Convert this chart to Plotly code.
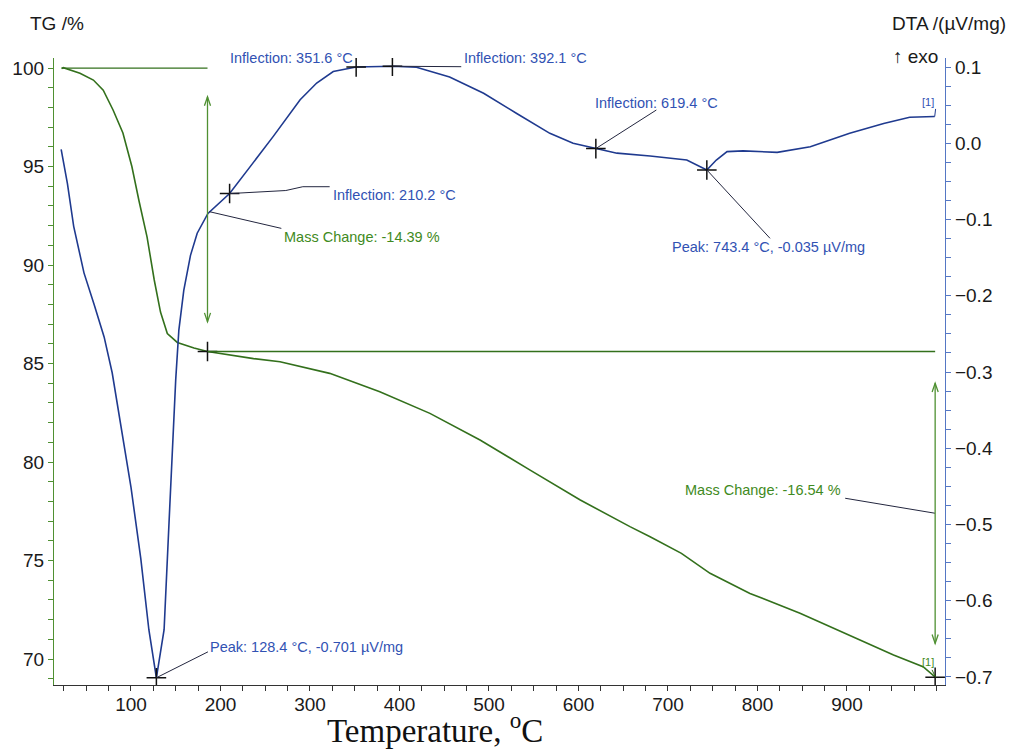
import plotly.graph_objects as go

# ---------------- data ----------------
temp_tg = [22.5, 24.4, 43, 58, 69, 80, 91, 101, 109, 118, 126, 133, 140.6, 151.8,
           170.4, 185.5, 237, 266.5, 322, 378, 434, 490, 546, 602, 657.5, 680, 715,
           747, 791.6, 847.5, 914.5, 952, 985, 999]
tg = [99.98, 100.02, 99.73, 99.39, 98.88, 97.87, 96.70, 95.00, 93.25, 91.42, 89.24,
      87.61, 86.52, 86.07, 85.79, 85.61, 85.25, 85.09, 84.50, 83.57, 82.47, 81.12,
      79.59, 78.07, 76.72, 76.21, 75.36, 74.35, 73.33, 72.32, 70.96, 70.20, 69.61, 69.07]

temp_dta = [22, 29, 36, 47.5, 59, 70, 79, 88.5, 100, 111, 120, 128.4, 137, 142.5, 146,
            150, 153.5, 159, 166.5, 174, 186, 210.2, 233, 259, 289, 307.5, 326, 351.6,
            392.1, 419, 456, 494, 531, 568, 594, 619.4, 643, 680, 721, 743.4, 754, 766,
            784, 822, 859, 903, 941, 970, 998]
dta = [-0.008, -0.053, -0.109, -0.170, -0.212, -0.254, -0.301, -0.367, -0.451, -0.545,
       -0.638, -0.701, -0.638, -0.498, -0.404, -0.310, -0.245, -0.193, -0.147, -0.118,
       -0.092, -0.066, -0.031, 0.009, 0.057, 0.079, 0.094, 0.100, 0.101, 0.0996, 0.087,
       0.0655, 0.039, 0.013, 0.000, -0.007, -0.013, -0.0167, -0.022, -0.035, -0.022,
       -0.011, -0.010, -0.012, -0.0045, 0.013, 0.026, 0.034, 0.035]

x_tick_vals = [100, 200, 300, 400, 500, 600, 700, 800, 900]
tg_tick_vals = [70, 75, 80, 85, 90, 95, 100]
dta_tick_vals = [-0.7, -0.6, -0.5, -0.4, -0.3, -0.2, -0.1, 0.0, 0.1]

# characteristic DTA points
dta_event_t = [128.4, 210.2, 351.6, 392.1, 619.4, 743.4]
dta_event_v = [-0.701, -0.066, 0.100, 0.101, -0.007, -0.035]
dta_event_text = ["Peak: 128.4 °C, -0.701 µV/mg", "Inflection: 210.2 °C",
                  "Inflection: 351.6 °C", "Inflection: 392.1 °C",
                  "Inflection: 619.4 °C", "Peak: 743.4 °C, -0.035 µV/mg"]

# TG step evaluation
tg_step_t = [185.5, 998.5]
tg_step_v = [85.61, 69.07]
tg_start_t = 22.5
tg_start_v = 100.0
mass_change_text = ["Mass Change: -14.39 %", "Mass Change: -16.54 %"]
mass_arrow_top = [98.54, 84.0]
mass_arrow_bottom = [87.12, 70.79]

# ---------------- styles ----------------
BLUE_LINE = "#1f3a8f"
BLUE_TEXT = "#3152b3"
BLUE_AXIS = "#5577c4"
GREEN_LINE = "#33701c"
GREEN_TEXT = "#3f8a22"
GREEN_AXIS = "#4f9032"
LEADER = "#23263f"
FONT = "Liberation Sans, Arial, sans-serif"

fig = go.Figure()

fig.add_trace(go.Scatter(x=temp_dta, y=dta, yaxis="y2", mode="lines",
                         line=dict(color=BLUE_LINE, width=1.6), hoverinfo="skip"))
fig.add_trace(go.Scatter(x=temp_tg, y=tg, mode="lines",
                         line=dict(color=GREEN_LINE, width=1.6), hoverinfo="skip"))

# crosses
fig.add_trace(go.Scatter(x=dta_event_t, y=dta_event_v, yaxis="y2", mode="markers",
                         marker=dict(symbol="cross-thin", size=14,
                                     line=dict(color="#111111", width=1.5)),
                         hoverinfo="skip"))
fig.add_trace(go.Scatter(x=tg_step_t, y=tg_step_v, mode="markers",
                         marker=dict(symbol="cross-thin", size=14,
                                     line=dict(color="#111111", width=1.5)),
                         hoverinfo="skip"))

shapes = []
# TG reference lines
shapes.append(dict(type="line", xref="x", yref="y", x0=tg_start_t, x1=tg_step_t[0],
                   y0=tg_start_v, y1=tg_start_v, line=dict(color=GREEN_LINE, width=1.3)))
shapes.append(dict(type="line", xref="x", yref="y", x0=tg_step_t[0], x1=tg_step_t[1],
                   y0=tg_step_v[0], y1=tg_step_v[0], line=dict(color=GREEN_LINE, width=1.3)))


def path_shape(pts, yref, color, width=1.0):
    p = "M " + " L ".join(f"{a},{b}" for a, b in pts)
    return dict(type="path", xref="x", yref=yref, path=p,
                line=dict(color=color, width=width))


# DTA leader lines
shapes.append(path_shape([(dta_event_t[0], dta_event_v[0]), (186, -0.667)], "y2", LEADER))
shapes.append(path_shape([(dta_event_t[1], dta_event_v[1]), (273, -0.062),
                          (292, -0.057), (322, -0.057)], "y2", LEADER))
shapes.append(path_shape([(dta_event_t[3], dta_event_v[3]), (469, 0.1004)], "y2", LEADER))
shapes.append(path_shape([(dta_event_t[4], dta_event_v[4]), (687, 0.0436)], "y2", LEADER))
shapes.append(path_shape([(dta_event_t[5], dta_event_v[5]), (814, -0.1247)], "y2", LEADER))
shapes.append(path_shape([(temp_dta[-1], dta[-1]), (999, 0.045)], "y2", BLUE_LINE))
# TG leaders
shapes.append(path_shape([(187.5, 92.71), (268, 91.86)], "y", LEADER))
shapes.append(path_shape([(998.3, 77.40), (898, 78.16)], "y", LEADER))
shapes.append(path_shape([(995, 69.45), (999, 69.07)], "y", GREEN_LINE))

# mass change double arrows (line + open chevron heads)
hx, hy = 3.4, 0.45
for xa, ytop, ybot in zip(tg_step_t, mass_arrow_top, mass_arrow_bottom):
    shapes.append(path_shape([(xa, ytop), (xa, ybot)], "y", GREEN_AXIS, 1.3))
    shapes.append(path_shape([(xa - hx, ytop - hy), (xa, ytop), (xa + hx, ytop - hy)],
                             "y", GREEN_AXIS, 1.3))
    shapes.append(path_shape([(xa - hx, ybot + hy), (xa, ybot), (xa + hx, ybot + hy)],
                             "y", GREEN_AXIS, 1.3))

annotations = []


def label(text, x, y, xanchor, yref, color, size=14.5):
    annotations.append(dict(text=text, x=x, y=y, xref="x", yref=yref, xanchor=xanchor,
                            yanchor="middle", showarrow=False,
                            font=dict(family=FONT, size=size, color=color)))


label(dta_event_text[0], 186, -0.6603, "left", "y2", BLUE_TEXT)
label(dta_event_text[1], 323.4, -0.0679, "left", "y2", BLUE_TEXT)
label(dta_event_text[2], 350.5, 0.1114, "right", "y2", BLUE_TEXT)
label(dta_event_text[3], 469.8, 0.1114, "left", "y2", BLUE_TEXT)
label(dta_event_text[4], 616.2, 0.0532, "left", "y2", BLUE_TEXT)
label(dta_event_text[5], 702.2, -0.1357, "left", "y2", BLUE_TEXT)
label(mass_change_text[0], 268.4, 91.44, "left", "y", GREEN_TEXT)
label(mass_change_text[1], 895.5, 78.58, "right", "y", GREEN_TEXT)
label("[1]", 990.5, 0.0545, "center", "y2", BLUE_TEXT, 11)
label("[1]", 990.8, 69.86, "center", "y", GREEN_TEXT, 11)

# axis labels
annotations.append(dict(text="TG /%", x=-0.0292, y=1.0558, xref="paper", yref="paper",
                        xanchor="left", yanchor="middle", showarrow=False,
                        font=dict(family=FONT, size=19, color="#1a1a1a")))
annotations.append(dict(text="DTA /(µV/mg)", x=1.0707, y=1.0558, xref="paper",
                        yref="paper", xanchor="right", yanchor="middle", showarrow=False,
                        font=dict(family=FONT, size=19, color="#1a1a1a")))
annotations.append(dict(text="↑ exo", x=0.9944, y=1.0016, xref="paper", yref="paper",
                        xanchor="right", yanchor="middle", showarrow=False,
                        font=dict(family=FONT, size=19, color="#1a1a1a")))
annotations.append(dict(text="Temperature, <sup>o</sup>C", x=0.4276, y=-0.068,
                        xref="paper", yref="paper", xanchor="center", yanchor="middle",
                        showarrow=False,
                        font=dict(family="Liberation Serif, Times New Roman, serif",
                                  size=33, color="#111111")))

tick_font = dict(family=FONT, size=19, color="#1a1a1a")

fig.update_layout(
    width=1012, height=749, autosize=False,
    margin=dict(l=54, r=67, t=58, b=64, pad=0),
    paper_bgcolor="white", plot_bgcolor="white",
    showlegend=False,
    shapes=shapes, annotations=annotations,
    xaxis=dict(range=[14, 1009.5], tickmode="array", tickvals=x_tick_vals,
               showgrid=False, zeroline=False, showline=True, linecolor="#333333",
               linewidth=1.3, ticks="outside", ticklen=5, tickcolor="#333333",
               tickfont=tick_font, ticklabelstandoff=-3,
               minor=dict(tickmode="linear", tick0=0, dtick=25, ticks="outside",
                          ticklen=5, tickcolor="#333333")),
    yaxis=dict(range=[68.68, 100.51], tickmode="array", tickvals=tg_tick_vals,
               showgrid=False, zeroline=False, showline=True, linecolor=GREEN_AXIS,
               linewidth=1.3, ticks="outside", ticklen=5, tickcolor=GREEN_AXIS,
               tickfont=tick_font,
               minor=dict(tickmode="linear", tick0=0, dtick=1, ticks="outside",
                          ticklen=5, tickcolor=GREEN_AXIS)),
    yaxis2=dict(range=[-0.7105, 0.1118], overlaying="y", side="right", anchor="x",
                tickmode="array", tickvals=dta_tick_vals, tickformat=".1f",
                showgrid=False, zeroline=False, showline=True, linecolor=BLUE_AXIS,
                linewidth=1.3, ticks="outside", ticklen=5, tickcolor=BLUE_AXIS,
                tickfont=tick_font,
                minor=dict(tickmode="linear", tick0=0, dtick=0.025, ticks="outside",
                           ticklen=5, tickcolor=BLUE_AXIS)),
)

fig.write_html("out.html")
